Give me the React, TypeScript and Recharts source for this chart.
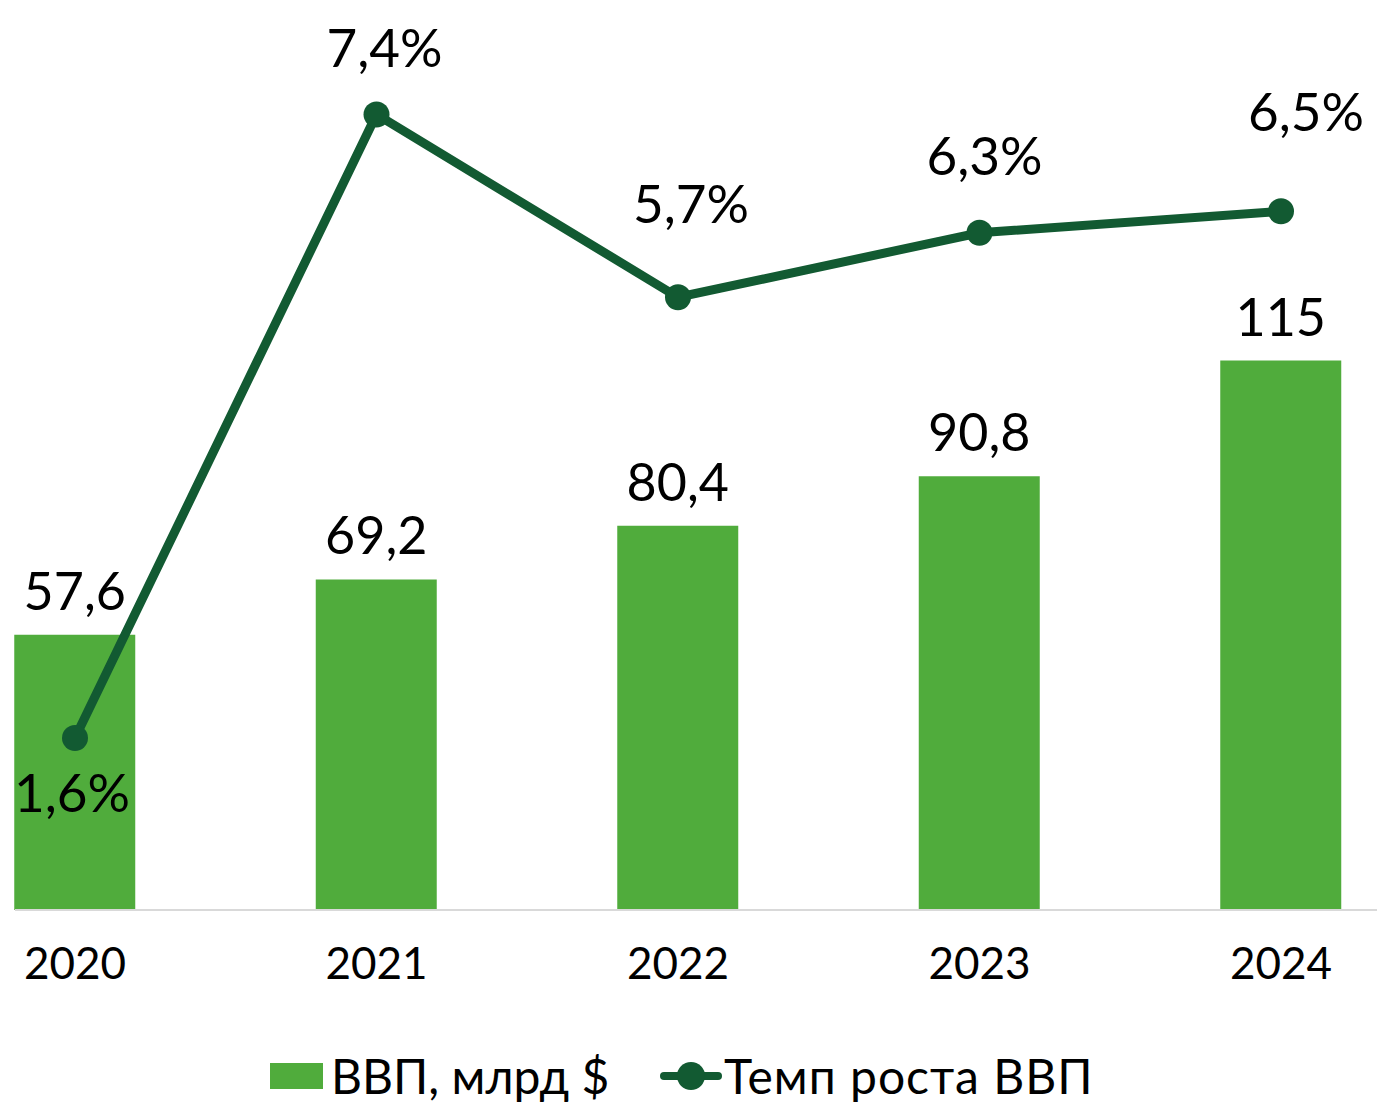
import {
  ComposedChart,
  Bar,
  Line,
  XAxis,
  YAxis,
  Legend,
  LabelList,
} from "recharts";

const years = ["2020", "2021", "2022", "2023", "2024"];
const gdp = [57.6, 69.2, 80.4, 90.8, 115];
const growth = [1.6, 7.4, 5.7, 6.3, 6.5];

const BAR_COLOR = "#50AC3C";
const LINE_COLOR = "#125A32";
const FONT = "Lato, 'Open Sans', sans-serif";

// hand-placed label shifts for the growth line (dx, dy to text baseline)
const pctLabelShift: [number, number][] = [
  [-3, 74],
  [8, -48],
  [13, -74],
  [5, -58],
  [25, -80],
];

const data = years.map((year, i) => ({
  year,
  gdp: gdp[i],
  growth: growth[i],
}));

const fmt = (v: number) => String(v).replace(".", ",");

function PctLabel(props: any) {
  const { x, y, index, value } = props;
  const [dx, dy] = pctLabelShift[index] ?? [0, -20];
  return (
    <text
      x={Number(x) + dx}
      y={Number(y) + dy}
      textAnchor="middle"
      fontSize={53}
      fontFamily={FONT}
      fill="#000"
    >
      {fmt(Number(value)) + "%"}
    </text>
  );
}

function LegendContent() {
  return (
    <div
      style={{
        display: "flex",
        alignItems: "center",
        height: 57,
        paddingLeft: 270,
        fontFamily: FONT,
        fontSize: 48,
        color: "#000",
        whiteSpace: "nowrap",
      }}
    >
      <svg width={53} height={26} style={{ marginRight: 8, flex: "none" }}>
        <rect width={53} height={26} fill={BAR_COLOR} />
      </svg>
      <span style={{ width: 329, flex: "none" }}>ВВП, млрд $</span>
      <svg width={62} height={30} style={{ marginRight: 2, flex: "none" }}>
        <line x1={4} y1={15} x2={58} y2={15} stroke={LINE_COLOR} strokeWidth={8} strokeLinecap="round" />
        <circle cx={31} cy={15} r={14} fill={LINE_COLOR} />
      </svg>
      <span style={{ letterSpacing: 1 }}>Темп роста ВВП</span>
    </div>
  );
}

export default function App() {
  return (
    <div
      style={{
        position: "absolute",
        top: 0,
        left: 0,
        width: 1377,
        height: 1107,
        overflow: "hidden",
        background: "#fff",
      }}
    >
      <ComposedChart
        width={1390}
        height={1107}
        data={data}
        margin={{ top: 50, right: 0, left: 15, bottom: 0 }}
      >
        <XAxis
          dataKey="year"
          padding={{ left: -90.75, right: -41.75 }}
          axisLine={{ stroke: "#D9D9D9", strokeWidth: 2 }}
          tickLine={false}
          tickSize={0}
          tickMargin={38}
          height={140}
          interval={0}
          tick={{ fontSize: 44, fill: "#000", fontFamily: FONT }}
        />
        <YAxis yAxisId="left" domain={[0, 180]} hide />
        <YAxis yAxisId="right" orientation="right" domain={[0, 8]} hide />
        <Legend
          verticalAlign="bottom"
          content={<LegendContent />}
          wrapperStyle={{ left: 0, top: 1047, bottom: "auto", width: 1390 }}
        />
        <Bar
          yAxisId="left"
          dataKey="gdp"
          name="ВВП, млрд $"
          fill={BAR_COLOR}
          barSize={121}
          isAnimationActive={false}
        >
          <LabelList
            dataKey="gdp"
            position="top"
            offset={25}
            formatter={(v: any) => fmt(Number(v))}
            style={{ fontSize: 52, fontFamily: FONT, fill: "#000" }}
          />
        </Bar>
        <Line
          yAxisId="right"
          type="linear"
          dataKey="growth"
          name="Темп роста ВВП"
          stroke={LINE_COLOR}
          strokeWidth={9}
          dot={{ r: 13, fill: LINE_COLOR, stroke: "none" }}
          activeDot={false}
          isAnimationActive={false}
        >
          <LabelList dataKey="growth" content={<PctLabel />} />
        </Line>
      </ComposedChart>
    </div>
  );
}
